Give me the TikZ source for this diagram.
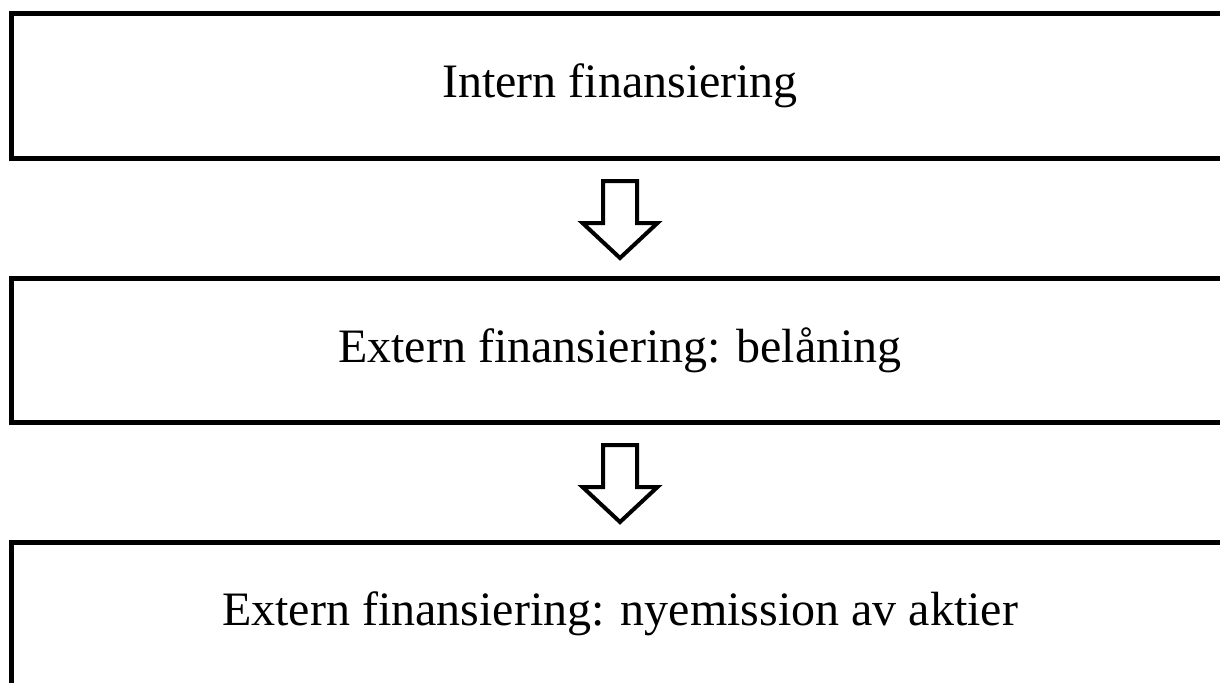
\documentclass[tikz,border=0pt]{standalone}
\usepackage{fontspec}
\setmainfont{Liberation Serif}
\usetikzlibrary{positioning,calc}
\tikzstyle{stage} = [rectangle,draw=black,line width=2.5pt,minimum width=609pt,minimum height=72pt,inner sep=0pt,outer sep=0pt,font=\fontsize{24}{24}\selectfont, node distance=60pt]
\tikzstyle{blockarrow} = [draw=black,line width=2pt,fill=white,line join=miter]
\newcommand{\flowarrow}[2]{%
\draw[blockarrow] ($(#2.north)+(0,20)$) -- ++(37.5,35) -- ++(-20.5,0) -- ($(#1.south)+(17,-23)$) -- ++(-34,0) |- ($(#2.north)+(-37.5,55)$) -- cycle;}

\begin{document}
\begin{tikzpicture}[x=0.5pt,y=0.5pt]
\useasboundingbox (0,0) rectangle (1220,682);
\clip (0,0) rectangle (1220,682);

% Define nodes
\node[stage]                    (intern)   at (620,596) {Intern finansiering};
\node[stage, below = of intern] (lan)      {Extern finansiering: belåning};
\node[stage, below = of lan]    (emission) {Extern finansiering: nyemission av aktier};

% Edges
\flowarrow{intern}{lan}
\flowarrow{lan}{emission}
\end{tikzpicture}
\end{document}
